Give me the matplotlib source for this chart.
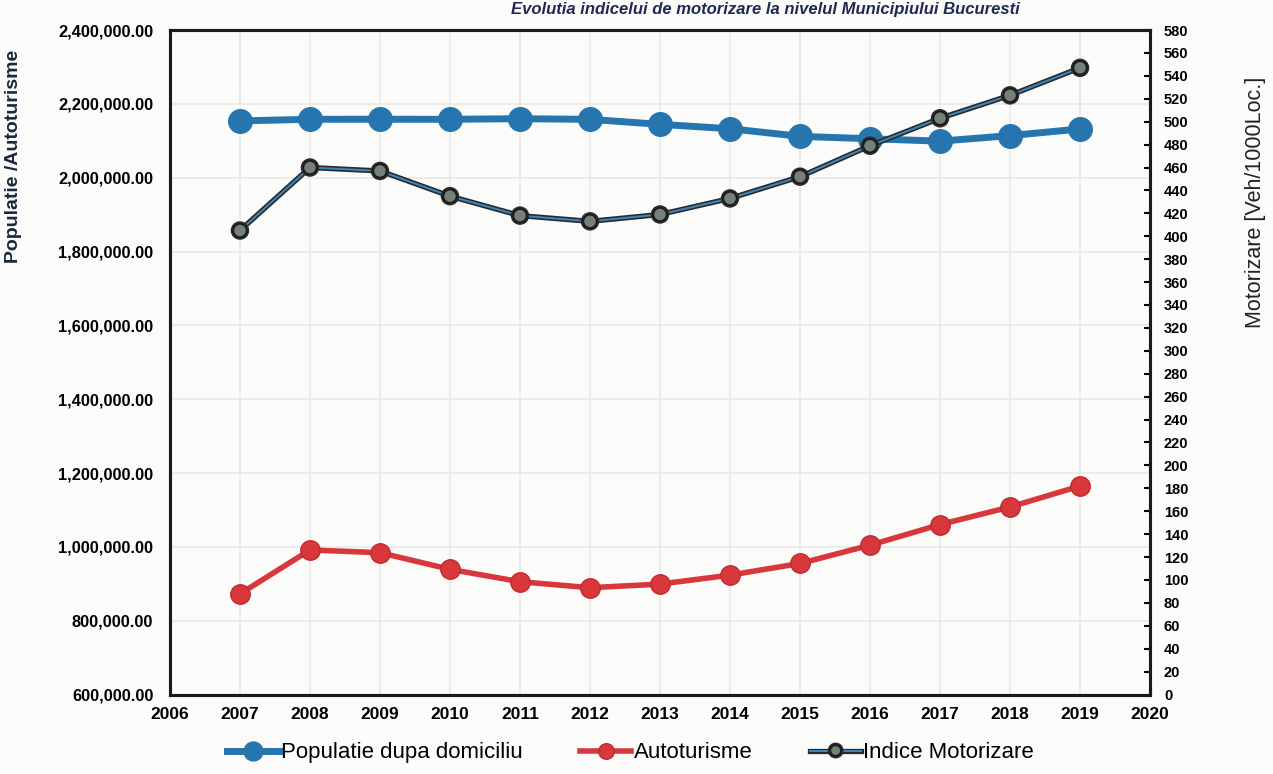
import numpy as np
import matplotlib
matplotlib.use('Agg')
from matplotlib import pyplot as plt
import matplotlib.ticker as ticker
import matplotlib.patheffects as pe

plt.rcParams['font.family'] = ['Liberation Sans', 'DejaVu Sans']

years = [2007, 2008, 2009, 2010, 2011, 2012, 2013, 2014, 2015, 2016, 2017, 2018, 2019]
populatie = [2153800, 2158200, 2158300, 2158200, 2159800, 2158000, 2144500,
             2132700, 2112000, 2105500, 2099000, 2114000, 2132000]
autoturisme = [872500, 991500, 984200, 939100, 905600, 889300, 899100,
               923400, 955000, 1004500, 1060300, 1108000, 1164700]
indice = [405, 460, 457, 435, 418, 413, 419, 433, 452, 479, 503, 523, 547]

left_ticks = np.arange(600000, 2400001, 200000)
right_ticks = np.arange(0, 581, 20)
x_ticks = np.arange(2006, 2021, 1)

title = "Evolutia indicelui de motorizare la nivelul Municipiului Bucuresti"

fig = plt.figure(figsize=(12.73, 7.74), dpi=100, facecolor='#fbfbfa')
ax = fig.add_axes([0.1335, 0.1027, 0.7699, 0.8585])
ax.set_facecolor('#fbfbfa')
ax2 = ax.twinx()

blue = '#2775ae'
red = '#d8383c'

l1, = ax.plot(years, populatie, color=blue, lw=5, marker='o', ms=17,
              label="Populatie dupa domiciliu", zorder=3)
l2, = ax.plot(years, autoturisme, color=red, lw=4, marker='o', ms=14,
              mfc=red, mec='#c02a30', label="Autoturisme", zorder=3)
l3, = ax2.plot(years, indice, color='#3a86bf', lw=1.4, marker='o', ms=9.5,
               mfc='#74807c', mec='#1a1a1a', mew=1.2, label="Indice Motorizare",
               path_effects=[pe.Stroke(linewidth=3.8, foreground='#2a2a2a'), pe.Normal()])

ax.set_xlim(2006, 2020)
ax.set_ylim(600000, 2400000)
ax2.set_ylim(0, 580)

ax.set_xticks(x_ticks)
ax.set_yticks(left_ticks)
ax2.set_yticks(right_ticks)
ax.yaxis.set_major_formatter(ticker.FuncFormatter(lambda v, p: f"{v:,.2f}"))

ax.grid(True, color='#e8e8e8', lw=1.2)
ax.set_axisbelow(True)

for a in (ax, ax2):
    for s in a.spines.values():
        s.set_linewidth(2.2)
        s.set_color('#1a1a1a')

ax.tick_params(axis='y', length=0, labelsize=11.8, pad=12)
ax.tick_params(axis='x', length=0, labelsize=12.5, pad=9)
ax2.tick_params(axis='y', direction='in', length=4, width=1.5, labelsize=10.5, pad=10)
for lab in ax.get_xticklabels() + ax.get_yticklabels() + ax2.get_yticklabels():
    lab.set_fontweight('bold')

ax.set_ylabel("Populatie /Autoturisme", fontsize=14, fontweight='bold', color='#1b2740')
ax.yaxis.set_label_coords(-0.151, 0.81)
ax2.set_ylabel("Motorizare [Veh/1000Loc.]", fontsize=15.5, color='#222222')
ax2.yaxis.set_label_coords(1.097, 0.74)

fig.text(1020 / 1273, 0.997, title, ha='right', va='top',
         fontsize=12, fontweight='bold', style='italic', color='#1c2a55')

fig.legend(handles=[l1, l2, l3], loc='lower left', bbox_to_anchor=(0.163, -0.012),
           ncol=3, frameon=False, fontsize=16, handlelength=2.3,
           handletextpad=0.1, columnspacing=2.6, markerscale=0.8)

plt.savefig('out.png', dpi=100, facecolor=fig.get_facecolor())
